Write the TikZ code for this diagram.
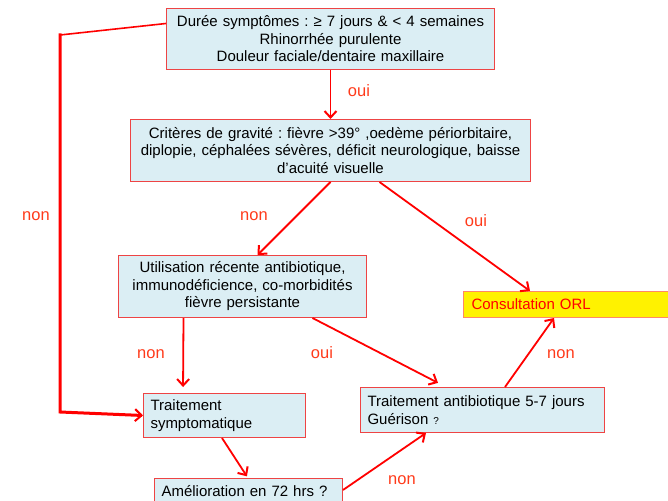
\documentclass[tikz,border=0pt]{standalone}
\usepackage{fontspec}
\setmainfont{Liberation Sans}
\usetikzlibrary{arrows.meta}
\definecolor{boxfill}{HTML}{DBEEF4}
\definecolor{boxline}{HTML}{EE4444}
\definecolor{arr}{HTML}{FF0000}
\definecolor{lab}{HTML}{FF3A1A}
\definecolor{orlline}{HTML}{FF8866}
\frenchspacing
\begin{document}
\begin{tikzpicture}[x=1pt,y=-1pt,
  every node/.style={font=\fontsize{15}{17.5}\selectfont},
  box/.style={draw=boxline, fill=boxfill, line width=1pt, anchor=north west, inner xsep=7pt, inner ysep=0pt},
  cbox/.style={box, align=center},
  lbox/.style={box, align=left},
  conn/.style={draw=arr, line width=1.8pt, -{Straight Barb[length=6.5pt,width=12pt,line width=2pt]}},
  plainline/.style={draw=arr, line width=1.6pt},
  lbl/.style={text=lab, font=\fontsize{16.5}{19}\selectfont, inner sep=0pt},
]
\useasboundingbox (0,0) rectangle (668,500);

\node[cbox, text width=314pt, minimum height=61pt] (top) at (166,8)
  {Durée symptômes : ≥ 7 jours \& < 4 semaines\\Rhinorrhée purulente\\Douleur faciale/dentaire maxillaire};
\node[cbox, text width=386pt, minimum height=62pt] (crit) at (130,119)
  {Critères de gravité : fièvre >39° ,oedème périorbitaire,\\diplopie, céphalées sévères, déficit neurologique, baisse\\d’acuité visuelle};
\node[cbox, text width=234pt, minimum height=62pt] (util) at (118,255)
  {Utilisation récente antibiotique,\\immunodéficience, co-morbidités\\fièvre persistante};
\node[box, align=left, fill=yellow, draw=orlline, text=red, inner xsep=8pt, text width=200pt, minimum height=26pt] (orl) at (463,291)
  {Consultation ORL};
\node[lbox, text width=148pt, minimum height=44pt] (sympt) at (143,393)
  {Traitement\\symptomatique};
\node[lbox, text width=230pt, minimum height=45pt] (antib) at (360,387)
  {Traitement antibiotique 5-7 jours\\Guérison {\fontsize{10}{12}\selectfont ?}};
\node[lbox, text width=174pt, minimum height=26pt] (amel) at (154,478)
  {Amélioration en 72 hrs ?};

\coordinate (l1) at (60,35);
\coordinate (l2) at (60,412);

\draw[conn] (top.south) -- (crit.north);
\node[lbl] at (359,91) {oui};

\draw[plainline] ([yshift=15.5pt]top.west) -- (l1);
\draw[conn, line width=3pt, line cap=rect] (l1) -- (l2) -- (sympt.west);
\node[lbl] at (36,216) {non};

\draw[conn] (crit.south) -- ([xshift=15pt]util.north);
\node[lbl] at (254,216) {non};

\draw[conn] ([xshift=49pt]crit.south) -- ([xshift=67pt]orl.north west);
\node[lbl] at (476,221) {oui};

\draw[conn, shorten >=6pt] ([xshift=-59pt]util.south) -- ([xshift=40pt]sympt.north west);
\node[lbl] at (151,354) {non};

\draw[conn, shorten >=9pt] ([xshift=70pt]util.south) -- ([xshift=86pt]antib.north west);
\node[lbl] at (322,353) {oui};

\draw[conn] ([xshift=145pt]antib.north west) -- ([xshift=91pt]orl.south west);
\node[lbl] at (561,354) {non};

\draw[conn, shorten >=2pt] ([xshift=79pt]sympt.south west) -- ([xshift=94pt]amel.north west);

\draw[conn] ([yshift=-12pt]amel.north east) -- ([xshift=66pt]antib.south west);
\node[lbl] at (402,480) {non};
\end{tikzpicture}
\end{document}
